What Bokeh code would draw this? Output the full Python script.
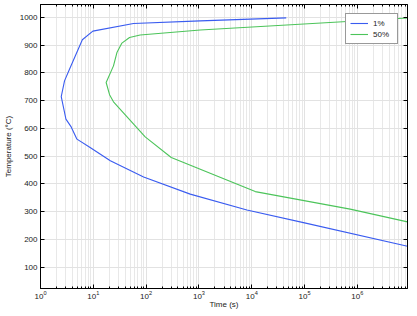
from bokeh.plotting import figure
from bokeh.models import LogAxis, LinearAxis, Legend, LegendItem, FixedTicker, Range1d
from bokeh.embed import file_html
from bokeh.resources import INLINE

# ---- data ----
series_names = ["1%", "50%"]

time_1 = [4.5e4, 1059, 57.7, 9.8, 6.2, 3.54, 2.85, 2.47, 3.03, 3.81, 4.9, 8.7,
          21, 89.6, 684, 8100, 1e5, 8.9e6]
temp_1 = [998, 987, 977.7, 950, 919, 813, 771, 714, 633, 605, 561, 531,
          483, 425, 363, 306, 259.5, 175.5]

time_50 = [8.9e6, 6.4e5, 1059, 77, 48.5, 34.8, 28, 24.1, 17.5, 20.3, 24.1,
           96, 299, 11650, 7.3e5, 8.9e6]
temp_50 = [997.5, 985, 954, 936, 927, 907, 873, 825, 765, 721, 695.5,
           569, 495, 372, 309, 263]

y_ticks = [100, 200, 300, 400, 500, 600, 700, 800, 900, 1000]
x_ticks = [1, 10, 100, 1e3, 1e4, 1e5, 1e6]
x_minor = [m * 10 ** d for d in range(0, 7) for m in range(2, 10)]

x_min, x_max = 1, 8.9e6
y_min, y_max = 23, 1046

FONT = "Liberation Sans"
TXT = "#222222"

p = figure(width=417, height=316, x_axis_type="log",
           x_range=Range1d(x_min, x_max), y_range=Range1d(y_min, y_max),
           output_backend="svg", toolbar_location=None,
           min_border_left=40, min_border_right=10,
           min_border_top=4, min_border_bottom=28)
p.outline_line_color = "black"
p.background_fill_color = "white"

xt = FixedTicker(ticks=x_ticks, minor_ticks=x_minor)
yt = FixedTicker(ticks=y_ticks, minor_ticks=[])

for ax in p.xaxis:
    ax.ticker = xt
for ax in p.yaxis:
    ax.ticker = yt

def style_axis(ax, labels=True):
    ax.axis_line_color = "black"
    ax.major_tick_in = 4
    ax.major_tick_out = 0
    ax.minor_tick_in = 2
    ax.minor_tick_out = 0
    ax.major_tick_line_color = "black"
    ax.minor_tick_line_color = "black"
    ax.major_label_text_font = FONT
    ax.major_label_text_font_size = "8px" if labels else "1px"
    ax.major_label_text_color = TXT
    if not labels:
        ax.major_label_text_alpha = 0
    ax.axis_label_text_font = FONT
    ax.axis_label_text_font_size = "8px"
    ax.axis_label_text_font_style = "normal"
    ax.axis_label_text_color = TXT

xa = p.xaxis[0]
ya = p.yaxis[0]
style_axis(xa)
style_axis(ya)
ya.minor_tick_in = 0
xa.axis_label = "Time (s)"
ya.axis_label = "Temperature (°C)"
xa.major_label_standoff = 2
xa.axis_label_standoff = -2
ya.major_label_standoff = 3
ya.axis_label_standoff = 4

top = LogAxis(ticker=xt)
style_axis(top, labels=False)
top.major_label_standoff = 0
right = LinearAxis(ticker=yt)
style_axis(right, labels=False)
right.minor_tick_in = 0
right.major_label_standoff = 0
p.add_layout(top, "above")
p.add_layout(right, "right")

p.xgrid.ticker = xt
p.ygrid.ticker = yt
p.xgrid.grid_line_color = "#e2e2e2"
p.xgrid.minor_grid_line_color = "#e8e8e8"
p.ygrid.grid_line_color = "#e2e2e2"

r1 = p.line(time_1, temp_1, line_color="#3a5cf0", line_width=1.1)
r2 = p.line(time_50, temp_50, line_color="#4cc45a", line_width=1.1)

legend = Legend(items=[LegendItem(label=series_names[0], renderers=[r1]),
                       LegendItem(label=series_names[1], renderers=[r2])],
                location="top_right", margin=9, padding=4, spacing=1,
                glyph_width=18, glyph_height=10, label_height=10,
                label_standoff=5,
                label_text_font=FONT, label_text_font_size="8px",
                label_text_color=TXT,
                border_line_color="#333333", border_line_width=1.5,
                background_fill_color="white", background_fill_alpha=1)
p.add_layout(legend)

open("out.html", "w").write(file_html(p, INLINE))
